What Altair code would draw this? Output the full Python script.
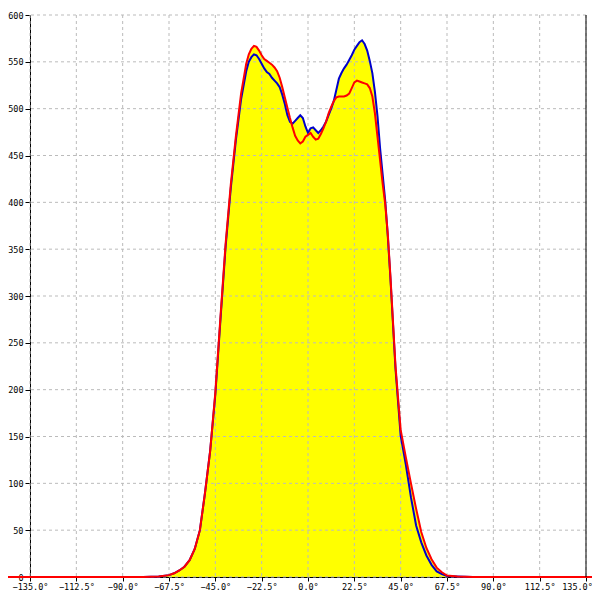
import altair as alt
import pandas as pd

deg = [-90, -80, -72.5, -67.5, -65, -62.5, -60, -57.5, -55, -52.5, -50, -47.5, -45, -42.5, -40, -37.5,
       -35, -32.5, -30, -28.75, -27.5, -26.25, -25, -23.75, -22.5, -21.25, -20, -18.75, -17.5, -16.25,
       -15, -13.75, -12.5, -11.25, -10, -8.75, -7.5, -6.25, -5, -3.75, -2.5, -1.25, 0, 1.25, 2.5, 3.75,
       5, 6.25, 7.5, 8.75, 10, 11.25, 12.5, 13.75, 15, 16.25, 17.5, 18.75, 20, 21.25, 22.5, 23.75, 25,
       26.25, 27.5, 28.75, 30, 31.25, 32.5, 33.75, 35, 36.25, 37.5, 38.75, 40, 42.5, 45, 47.5, 50, 52.5,
       55, 57.5, 60, 62.5, 65, 67.5, 72.5, 80, 90]
blue = [0, 0, 0.5, 2, 4, 7, 11, 18, 30, 50, 90, 135, 195, 275, 353, 415,
        467, 510, 540, 550, 555, 558, 557, 553, 548, 543, 539, 537, 533, 530,
        527, 523, 515, 505, 493, 486, 484, 487, 490, 493, 490, 481, 474, 479, 480, 477,
        474, 477, 481, 486, 493, 500, 508, 520, 532, 538, 543, 547, 552, 557, 563, 567, 571,
        573, 569, 562, 551, 538, 518, 492, 458, 430, 402, 364, 320, 222, 151, 120, 85, 55,
        37, 23, 13, 6, 3, 1, 0.5, 0, 0]
red = [0, 0, 0.5, 2, 4, 7, 11, 18, 30, 50, 90, 135, 197, 278, 356, 419,
       471, 516, 548, 558, 564, 567, 566, 562, 557, 553, 551, 549, 547, 544,
       540, 533, 523, 512, 501, 490, 480, 471, 466, 463, 465, 470, 472, 474, 470, 467,
       468, 473, 479, 486, 495, 502, 508, 512, 513, 513, 513, 514, 516, 522, 528, 530, 529,
       528, 527, 526, 522, 513, 495, 470, 445, 420, 398, 366, 322, 225, 157, 128, 100, 73,
       48, 31, 19, 10, 5, 1.5, 0.5, 0, 0]
red_ext_deg = [-150, 150]

x_ticks = [-135, -112.5, -90, -67.5, -45, -22.5, 0, 22.5, 45, 67.5, 90, 112.5, 135]
y_ticks = [0, 50, 100, 150, 200, 250, 300, 350, 400, 450, 500, 550, 600]

df_blue = pd.DataFrame({"deg": deg, "v": blue})
df_red = pd.DataFrame({"deg": [red_ext_deg[0]] + deg + [red_ext_deg[1]], "v": [0] + red + [0]})
df_area = pd.DataFrame({"deg": deg, "v": [max(a, b) for a, b in zip(blue, red)]})
df_xg = pd.DataFrame({"t": x_ticks})
df_yg = pd.DataFrame({"t": y_ticks})

FONT = "DejaVu Sans Mono"
xscale = alt.Scale(domain=[-135, 135], nice=False, zero=False)
yscale = alt.Scale(domain=[0, 600], nice=False)

xaxis = alt.Axis(values=x_ticks, labelExpr="format(datum.value, '.1f') + '°'", grid=False,
                 domainColor="black", tickColor="black", tickSize=4, labelPadding=1,
                 labelFont=FONT, labelFontSize=8.5, labelColor="black", title=None,
                 labelOverlap=False, labelFlush=False,
                 labelOffset={"condition": {"test": "datum.value >= 135", "value": -9}, "value": 0})
yaxis = alt.Axis(values=y_ticks, grid=False, domainColor="black", tickColor="black", tickSize=5,
                 labelPadding=2, labelFont=FONT, labelFontSize=8.5, labelColor="black", title=None,
                 labelOverlap=False, labelFlush=False)

area = alt.Chart(df_area).mark_area(color="#ffff00", opacity=1).encode(
    x=alt.X("deg:Q", scale=xscale, axis=xaxis),
    y=alt.Y("v:Q", scale=yscale, axis=yaxis),
)
xgrid = alt.Chart(df_xg).mark_rule(color="#bbbbbb", strokeDash=[3, 3], strokeWidth=1).encode(
    x=alt.X("t:Q", scale=xscale)
)
ygrid = alt.Chart(df_yg).mark_rule(color="#bbbbbb", strokeDash=[3, 3], strokeWidth=1).encode(
    y=alt.Y("t:Q", scale=yscale)
)
bline = alt.Chart(df_blue).mark_line(color="#0000cc", strokeWidth=2).encode(
    x=alt.X("deg:Q", scale=xscale), y=alt.Y("v:Q", scale=yscale)
)
rline = alt.Chart(df_red).mark_line(color="#ff0000", strokeWidth=2).encode(
    x=alt.X("deg:Q", scale=xscale), y=alt.Y("v:Q", scale=yscale)
)
border = alt.Chart().mark_rule(color="black", strokeWidth=1).encode(x=alt.datum(135, scale=xscale))

chart = alt.layer(area, xgrid, ygrid, bline, rline, border).properties(
    width=556, height=562,
    autosize=alt.AutoSizeParams(type="none"),
    padding={"left": 22, "top": 7, "right": 6, "bottom": 15},
    background="white",
).configure_view(stroke=None)

chart.save("out.html", embed_options={"renderer": "svg", "actions": False})
